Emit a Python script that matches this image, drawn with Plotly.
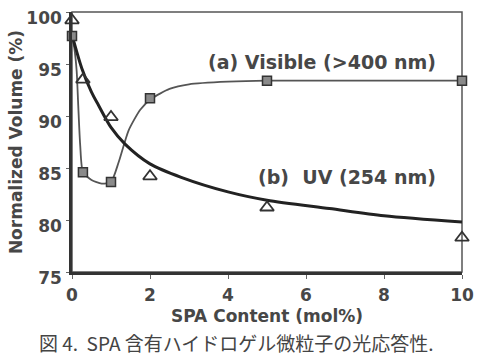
import plotly.graph_objects as go

# measured points
vis_x = [0, 0.28, 1, 2, 5, 10]
vis_y = [97.7, 84.6, 83.65, 91.7, 93.4, 93.4]
uv_x = [0, 0.28, 1, 2, 5, 10]
uv_y = [99.2, 93.5, 89.9, 84.2, 81.2, 78.3]

# guide curves
vis_fit_x = [0, 0.06, 0.12, 0.16, 0.21, 0.28, 0.5, 0.76, 1.0, 1.2, 1.45, 1.75, 2.05, 2.5, 3.0, 4, 5, 10]
vis_fit_y = [97.7, 96.5, 94.3, 91.0, 87.2, 84.6, 83.85, 83.5, 83.65, 85.6, 88.6, 90.6, 91.7, 92.6, 93.05, 93.3, 93.4, 93.4]
uv_fit_x = [0, 0.25, 0.5, 0.67, 1, 1.36, 2, 2.8, 4, 5, 6.6, 8, 10]
uv_fit_y = [97.8, 94.6, 92.3, 91.1, 88.9, 87.3, 85.4, 84.1, 82.7, 81.9, 81.1, 80.4, 79.8]

x_ticks = [0, 2, 4, 6, 8, 10]
y_ticks = [75, 80, 85, 90, 95, 100]

TXT = "#474747"
BOLD = dict(family="DejaVu Sans", weight="bold", color=TXT)

fig = go.Figure()
fig.add_trace(go.Scatter(x=vis_fit_x, y=vis_fit_y, mode="lines",
                         line=dict(color="#555555", width=1.8, shape="spline", smoothing=0.6),
                         hoverinfo="skip", cliponaxis=False))
fig.add_trace(go.Scatter(x=uv_fit_x, y=uv_fit_y, mode="lines",
                         line=dict(color="#222222", width=3, shape="spline", smoothing=0.8),
                         hoverinfo="skip", cliponaxis=False))
fig.add_trace(go.Scatter(x=vis_x, y=vis_y, mode="markers", cliponaxis=False,
                         marker=dict(symbol="square", size=9, color="#8a8a8a",
                                     line=dict(color="#333333", width=1.5))))
fig.add_trace(go.Scatter(x=uv_x, y=uv_y, mode="markers", cliponaxis=False,
                         marker=dict(symbol="triangle-up-open", size=12, color="#333333",
                                     line=dict(color="#333333", width=1.8))))

fig.add_annotation(x=9.38, y=95.2, xref="x", yref="y", xanchor="right", yanchor="middle",
                   text="(a) Visible (>400 nm)", showarrow=False,
                   font=dict(size=19, **BOLD))
fig.add_annotation(x=9.38, y=84.1, xref="x", yref="y", xanchor="right", yanchor="middle",
                   text="(b)  UV (254 nm)", showarrow=False,
                   font=dict(size=19, **BOLD))
fig.add_annotation(x=0.423, y=-0.273, xref="paper", yref="paper", xanchor="center", yanchor="middle",
                   text="図 4.  SPA 含有ハイドロゲル微粒子の光応答性.", showarrow=False,
                   font=dict(size=19, family="Noto Sans CJK JP", color="#444444"))

fig.add_shape(type="rect", xref="paper", yref="paper", x0=0, y0=0, x1=1, y1=1,
              line=dict(color="#555555", width=1.5), layer="below")

fig.update_layout(
    width=482, height=355,
    margin=dict(l=72, r=20, t=12, b=83, autoexpand=False),
    plot_bgcolor="white", paper_bgcolor="white",
    showlegend=False,
    xaxis=dict(range=[0, 10], tickvals=x_ticks, ticks="outside", ticklen=4, tickwidth=1,
               tickcolor="#666666", showgrid=False, zeroline=False, automargin=False,
               showline=True, linecolor="#333333", linewidth=2.5,
               tickfont=dict(size=17, **BOLD), ticklabelstandoff=2,
               title=dict(text="SPA Content (mol%)", font=dict(size=17, **BOLD), standoff=6)),
    yaxis=dict(range=[75, 100], tickvals=y_ticks, ticks="outside", ticklen=3, tickwidth=1,
               tickcolor="#666666", showgrid=False, zeroline=False, automargin=False,
               showline=True, linecolor="#333333", linewidth=2.5,
               tickfont=dict(size=17, **BOLD), ticklabelshift=6, ticklabelstandoff=1,
               title=dict(text="Normalized Volume (%)", font=dict(size=17, **BOLD), standoff=0)),
)

fig.write_html("out.html")
